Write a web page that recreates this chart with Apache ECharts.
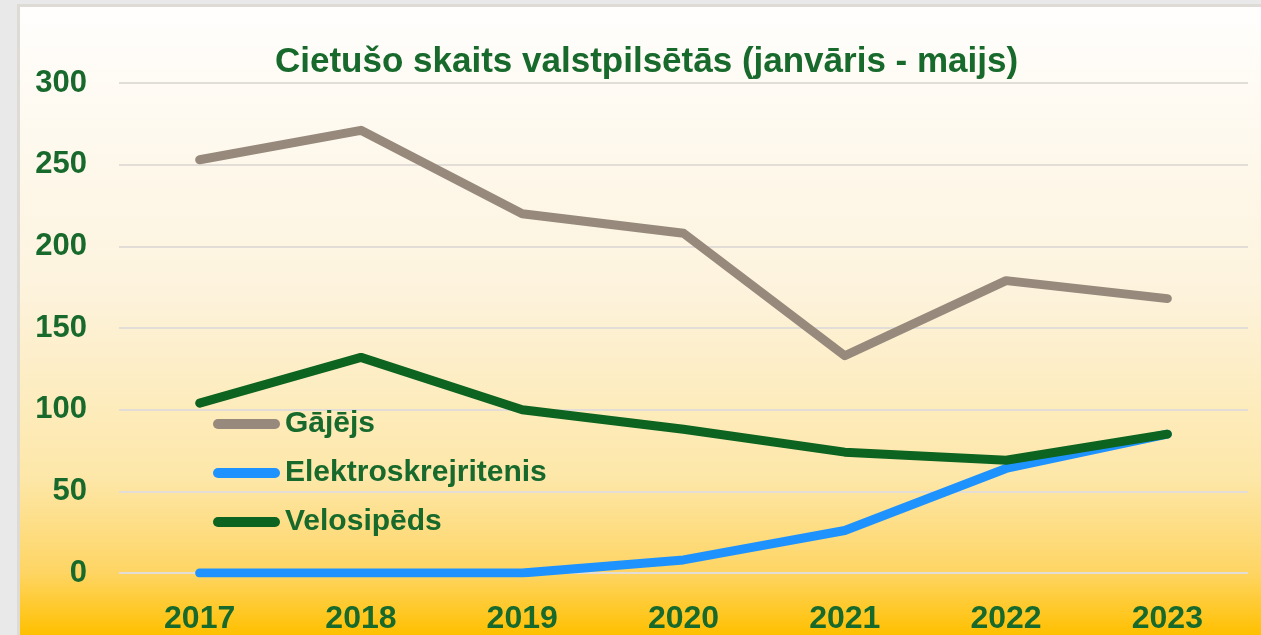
<!DOCTYPE html>
<html>
<head>
<meta charset="utf-8">
<script src="https://cdn.jsdelivr.net/npm/echarts@6/dist/echarts.min.js"></script>
<style>
  html, body { margin: 0; padding: 0; background: #e9e9e9; overflow: hidden; }
  #chart {
    position: absolute; left: 20px; top: 7px;
    width: 1241px; height: 628px;
    box-shadow: -1px -1px 0 2px #dedad6;
  }
</style>
</head>
<body>
<div id="chart"></div>
<script>
// chart data
const years = ['2017', '2018', '2019', '2020', '2021', '2022', '2023'];
const gajejs = [253, 271, 220, 208, 133, 179, 168];
const skrejritenis = [0, 0, 0, 8, 26, 64, 85];
const velosipeds = [104, 132, 100, 88, 74, 69, 85];

const textGreen = '#17692c';
const font = 'Liberation Sans';
// capsule shaped legend marker (line with round caps)
const capsule = 'path://M5,0H62A5,5 0 0 1 62,10H5A5,5 0 0 1 5,0Z';

const chart = echarts.init(document.getElementById('chart'));

function lineSeries(name, data, color) {
  return {
    name: name,
    type: 'line',
    data: data,
    symbol: 'none',
    smooth: false,
    color: color,
    lineStyle: { color: color, width: 9, cap: 'round', join: 'round' },
    animation: false,
  };
}

chart.setOption({
  backgroundColor: new echarts.graphic.LinearGradient(0, 0, 0, 1, [
    { offset: 0, color: '#fffefd' },
    { offset: 0.45, color: '#fdf3dd' },
    { offset: 0.75, color: '#fde7a8' },
    { offset: 0.9, color: '#fed564' },
    { offset: 1, color: '#ffc000' },
  ]),
  title: {
    text: 'Cietušo skaits valstpilsētās (janvāris - maijs)',
    left: 250,
    top: 33,
    textStyle: {
      color: textGreen,
      fontFamily: font,
      fontWeight: 'bold',
      fontSize: 35,
    },
  },
  grid: {
    left: 99,
    right: 13,
    top: 76,
    bottom: 59,
    containLabel: false,
  },
  legend: {
    orient: 'vertical',
    left: 188,
    top: 397,
    itemWidth: 67,
    itemHeight: 10,
    itemGap: 19,
    icon: capsule,
    textStyle: {
      color: textGreen,
      fontFamily: font,
      fontWeight: 'bold',
      fontSize: 30,
      lineHeight: 30,
    },
    data: ['Gājējs', 'Elektroskrejritenis', 'Velosipēds'],
  },
  xAxis: {
    type: 'category',
    data: years,
    boundaryGap: true,
    axisLine: { show: false },
    axisTick: { show: false },
    axisLabel: {
      color: textGreen,
      fontFamily: font,
      fontWeight: 'bold',
      fontSize: 32,
      margin: 30,
    },
  },
  yAxis: {
    type: 'value',
    min: 0,
    max: 300,
    interval: 50,
    axisLine: { show: false },
    axisTick: { show: false },
    splitLine: { lineStyle: { color: '#e2ddd6', width: 2 } },
    axisLabel: {
      color: textGreen,
      fontFamily: font,
      fontWeight: 'bold',
      fontSize: 31,
      margin: 32,
    },
  },
  series: [
    lineSeries('Gājējs', gajejs, '#978a7c'),
    lineSeries('Elektroskrejritenis', skrejritenis, '#1e93ff'),
    lineSeries('Velosipēds', velosipeds, '#0c6420'),
  ],
});
</script>
</body>
</html>
